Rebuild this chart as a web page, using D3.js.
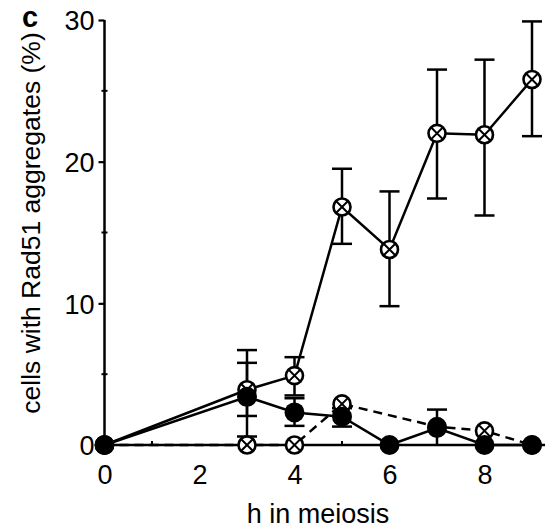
<!DOCTYPE html>
<html>
<head>
<meta charset="utf-8">
<script src="https://cdn.jsdelivr.net/npm/d3@7"></script>
<style>
  body { margin: 0; background: #fff; }
  text { font-family: "Liberation Sans", Arial, sans-serif; fill: #000; }
</style>
</head>
<body>
<svg id="chart" width="547" height="529"></svg>
<script>
// values (h in meiosis vs % cells)
const xTicks = [0, 2, 4, 6, 8]
const yTicks = [0, 10, 20, 30]

// crossed circles, solid line
const crossHours = [0, 3, 4, 5, 6, 7, 8, 9]
const crossVals  = [0, 3.9, 4.9, 16.8, 13.8, 22.0, 21.9, 25.8]
const crossLo    = [null, 0.6, 3.5, 14.2, 9.8, 17.4, 16.2, 21.8]
const crossHi    = [null, 6.7, 6.2, 19.5, 17.9, 26.5, 27.2, 29.9]

// filled circles, solid line
const fillHours = [0, 3, 4, 5, 6, 7, 8, 9]
const fillVals  = [0, 3.4, 2.3, 2.0, 0, 1.2, 0, 0]
const fillLo    = [null, 2.05, 1.35, 1.3, null, 0, null, null]
const fillHi    = [null, 5.8, 3.3, 2.6, null, 2.5, null, null]

// crossed circles, dashed line
const dashHours = [0, 3, 4, 5, 7, 8, 9]
const dashVals  = [0, 0, 0, 2.9, 1.3, 1.0, 0]

const svg = d3.select('#chart')
const x = d3.scaleLinear().domain([0, 9]).range([104.5, 532])
const y = d3.scaleLinear().domain([0, 30]).range([445, 20])

const zip = (hs, vs, lo, hi) => hs.map((h, i) => ({h: h, v: vs[i], lo: lo ? lo[i] : null, hi: hi ? hi[i] : null}))
const cross = zip(crossHours, crossVals, crossLo, crossHi)
const fill = zip(fillHours, fillVals, fillLo, fillHi)
const dash = zip(dashHours, dashVals)

// axes
const yAxis = svg.append('g').attr('transform', 'translate(' + x(0) + ',0)')
    .call(d3.axisLeft(y).tickValues(yTicks).tickSize(6).tickPadding(4).tickFormat(d3.format('d')))
const xAxis = svg.append('g').attr('transform', 'translate(0,' + y(0) + ')')
    .call(d3.axisBottom(x).tickValues(xTicks).tickSize(0).tickPadding(20).tickFormat(d3.format('d')))
xAxis.select('.domain').attr('d', 'M' + x(0) + ',0H545')
yAxis.select('.domain').attr('d', 'M0,' + y(0) + 'V' + y(30))
svg.selectAll('.domain').attr('stroke', '#000').attr('stroke-width', 2.5)
svg.selectAll('.tick line').attr('stroke', '#000').attr('stroke-width', 2.2)
svg.selectAll('.tick text').style('font-size', '27px').attr('fill', '#000')
yAxis.selectAll('.tick text').attr('dy', '0.36em')

// minor ticks
svg.append('g').selectAll('line').data([5, 15, 25]).join('line')
    .attr('x1', x(0) - 3).attr('x2', x(0) + 3)
    .attr('y1', d => y(d)).attr('y2', d => y(d))
    .attr('stroke', '#000').attr('stroke-width', 2)
svg.append('g').selectAll('line').data([1, 3, 5, 7]).join('line')
    .attr('x1', d => x(d)).attr('x2', d => x(d))
    .attr('y1', y(0) - 4).attr('y2', y(0))
    .attr('stroke', '#000').attr('stroke-width', 2)

// error bars
const drawErr = (data) => {
    const g = svg.append('g').attr('stroke', '#000').attr('stroke-width', 2.5)
    data.filter(d => d.hi !== null).forEach(d => {
        g.append('line').attr('x1', x(d.h)).attr('x2', x(d.h)).attr('y1', y(d.lo)).attr('y2', y(d.hi))
        g.append('line').attr('x1', x(d.h) - 10).attr('x2', x(d.h) + 10).attr('y1', y(d.hi)).attr('y2', y(d.hi))
        if (d.lo > 0) g.append('line').attr('x1', x(d.h) - 10).attr('x2', x(d.h) + 10).attr('y1', y(d.lo)).attr('y2', y(d.lo))
    })
}
drawErr(cross)
drawErr(fill)

const line = d3.line().x(d => x(d.h)).y(d => y(d.v))
svg.append('path').datum(dash).attr('d', line).attr('fill', 'none')
    .attr('stroke', '#000').attr('stroke-width', 2.5).attr('stroke-dasharray', '9,6')
svg.append('path').datum(cross).attr('d', line).attr('fill', 'none')
    .attr('stroke', '#000').attr('stroke-width', 2.5)
svg.append('path').datum(fill).attr('d', line).attr('fill', 'none')
    .attr('stroke', '#000').attr('stroke-width', 2.5)

// markers
const drawCross = (data) => {
    const r = 8.5, k = r * Math.SQRT1_2
    const g = svg.append('g').selectAll('g').data(data).join('g')
        .attr('transform', d => 'translate(' + x(d.h) + ',' + y(d.v) + ')')
    g.append('circle').attr('r', r).attr('fill', '#fff').attr('stroke', '#000').attr('stroke-width', 2.6)
    g.append('path').attr('d', 'M' + -k + ',' + -k + 'L' + k + ',' + k + 'M' + k + ',' + -k + 'L' + -k + ',' + k)
        .attr('stroke', '#000').attr('stroke-width', 2)
}
drawCross(dash)
drawCross(cross)
svg.append('g').selectAll('circle').data(fill).join('circle')
    .attr('cx', d => x(d.h)).attr('cy', d => y(d.v)).attr('r', 10).attr('fill', '#000')

// labels
svg.append('text').attr('x', 318).attr('y', 523).attr('text-anchor', 'middle')
    .style('font-size', '27px').text('h in meiosis')
svg.append('text').attr('transform', 'translate(40,223) rotate(-90)').attr('text-anchor', 'middle')
    .style('font-size', '26.5px').text('cells with Rad51 aggregates (%)')
svg.append('text').attr('x', 22).attr('y', 27).style('font-size', '29px').style('font-weight', 'bold').text('c')
</script>
</body>
</html>
